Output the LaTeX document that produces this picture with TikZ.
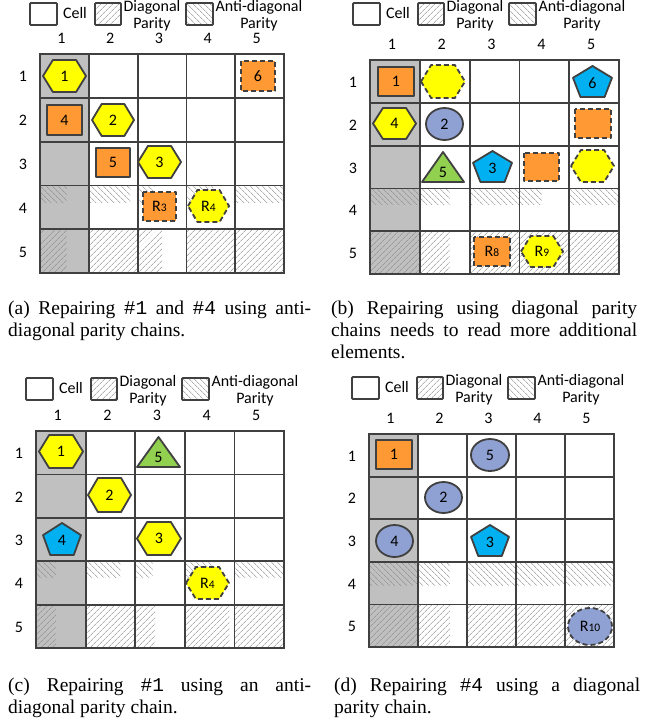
\documentclass[tikz,border=0pt]{standalone}
\usepackage{fontspec}
\setmainfont{Liberation Serif}
\setmonofont{Liberation Mono}
\newfontfamily\calfont{Carlito}
\usetikzlibrary{patterns.meta}
\definecolor{gridc}{RGB}{64,64,64}
\definecolor{colg}{RGB}{192,192,192}
\definecolor{hatchc}{RGB}{135,135,135}
\definecolor{shapec}{RGB}{64,64,64}
\definecolor{yelc}{RGB}{255,255,0}
\definecolor{orgc}{RGB}{255,153,51}
\definecolor{bluc}{RGB}{0,176,240}
\definecolor{ellc}{RGB}{143,160,210}
\definecolor{grnc}{RGB}{146,208,80}
\tikzset{
 gridline/.style={draw=gridc,line width=1.8pt},
 antihatch/.style={pattern={Lines[angle=-45,distance=4pt,line width=0.6pt]},pattern color=hatchc},
 diaghatch/.style={pattern={Lines[angle=45,distance=4pt,line width=0.6pt]},pattern color=hatchc},
 lbl/.style={font=\calfont\fontsize{16}{16}\selectfont,inner sep=0pt,text=black},
 shp/.style={draw=shapec,line width=1.8pt,line join=round},
 dsh/.style={shp,dash pattern=on 5pt off 3pt},
 captxt/.style={font=\fontsize{19.5}{22}\selectfont,inner sep=0pt,anchor=base west},
 legbox/.style={draw=gridc,line width=1.9pt,rounded corners=1pt},
}
\newcommand\panel[8]{%
 \fill[colg] (#1,#2) rectangle ({#1+#3},{#2+5*#4});
 \foreach \f [count=\c from 0] in {#5} {\fill[antihatch] ({#1+\c*#3},{#2+3*#4}) rectangle ({#1+\c*#3+\f*#3},{#2+3*#4+#6*#4});}
 \foreach \f [count=\c from 0] in {#7} {\fill[diaghatch] ({#1+\c*#3},{#2+4*#4}) rectangle ({#1+\c*#3+\f*#3},{#2+5*#4});}
 \foreach \i in {1,...,4} {\draw[gridline] ({#1+\i*#3},#2) -- ({#1+\i*#3},{#2+5*#4});
   \draw[gridline] (#1,{#2+\i*#4}) -- ({#1+5*#3},{#2+\i*#4});}
 \draw[gridline,line width=2.2pt] (#1,#2) rectangle ({#1+5*#3},{#2+5*#4});
 \foreach \i in {1,...,5} {\node[lbl,anchor=base] (#8col\i) at ({#1+(\i-0.5)*#3-3},{#2-10.5}) {\i};
   \node[lbl,anchor=base] (#8row\i) at ({#1-17},{#2+(\i-0.5)*#4+6}) {\i};}
}
\newcommand\mylegend[3]{%
 \begin{scope}[shift={(#1,#2)}]
 \draw[legbox] (30,3) rectangle (57,25);
 \node[lbl,anchor=base] (#3cell) at (75,18.5) {Cell};
 \fill[diaghatch] (95,3) rectangle (121,25);
 \draw[legbox] (95,3) rectangle (121,25);
 \node[lbl,anchor=base] (#3diag) at (152,11) {Diagonal};
 \node[lbl,anchor=base] (#3dpar) at (152,28) {Parity};
 \fill[antihatch] (186,3) rectangle (213,25);
 \draw[legbox] (186,3) rectangle (213,25);
 \node[lbl,anchor=base] (#3anti) at (259,11) {Anti-diagonal};
 \node[lbl,anchor=base] (#3apar) at (259,28) {Parity};
 \end{scope}}
\newcommand\hexs[7]{\draw[#5,shift={(#1,#2)}] ({-#3/2},0) -- ({-#3/2+0.23*#3},{-#4/2}) -- ({#3/2-0.23*#3},{-#4/2}) -- ({#3/2},0) -- ({#3/2-0.23*#3},{#4/2}) -- ({-#3/2+0.23*#3},{#4/2}) -- cycle;
 \node[lbl] (#6) at (#1,#2) {#7};}
\newcommand\pent[7]{\draw[#5,shift={(#1,#2)}] (0,{-#4/2}) -- ({#3/2},{-#4/2+0.38*#4}) -- ({0.31*#3},{#4/2}) -- ({-0.31*#3},{#4/2}) -- ({-#3/2},{-#4/2+0.38*#4}) -- cycle;
 \node[lbl] (#6) at (#1,{#2+1.5}) {#7};}
\newcommand\tri[7]{\draw[#5,shift={(#1,#2)}] (0,{-#4/2}) -- ({#3/2},{#4/2}) -- ({-#3/2},{#4/2}) -- cycle;
 \node[lbl] (#6) at (#1,{#2+5}) {#7};}
\newcommand\ellp[7]{\draw[#5] (#1,#2) ellipse [x radius={#3/2*1pt}, y radius={#4/2*1pt}];
 \node[lbl] (#6) at (#1,#2) {#7};}
\newcommand\sqr[7]{\draw[#5] ({#1-#3/2},{#2-#4/2}) rectangle ({#1+#3/2},{#2+#4/2});
 \node[lbl] (#6) at (#1,#2) {#7};}
\newcommand\Rl[1]{R{\fontsize{11.5}{11.5}\selectfont #1}}
\begin{document}
\begin{tikzpicture}[x=1pt,y=-1pt]
\fill[white] (0,0) rectangle (652,723);
\useasboundingbox (0,0) rectangle (652,723);
% legends
\mylegend{0}{0}{la}
\mylegend{323}{0}{lb}
\mylegend{-4}{375}{lc}
\mylegend{322}{374}{ld}
% grids
\panel{40}{54}{48.8}{43.8}{0.55,0.85,0.35,0.55,1}{0.4}{0.55,1,0.5,1,1}{a}
\panel{370}{60}{49.8}{42.8}{1,0.6,1,0.45,1}{0.38}{1,0.6,1,1,1}{b}
\panel{36}{431}{49.6}{43.4}{0.4,0.7,0.35,0.6,1}{0.38}{0.4,1,0.4,0.9,1}{c}
\panel{369}{434}{49}{42.6}{1,0.65,1,1,1}{0.55}{1,0.65,1,1,1}{d}
% panel (a)
\hexs{64.5}{76}{43}{32}{shp,fill=yelc}{a1}{1}
\sqr{64.5}{120}{35}{30}{shp,fill=orgc}{a4}{4}
\hexs{113}{120}{42}{32}{shp,fill=yelc}{a2}{2}
\sqr{113}{162.5}{34}{29}{shp,fill=orgc}{a5}{5}
\hexs{159.5}{162}{43}{32}{shp,fill=yelc}{a3}{3}
\sqr{258}{76}{34}{30}{dsh,fill=orgc}{a6}{6}
\sqr{159.5}{206.5}{33}{29}{dsh,fill=orgc}{ar3}{\Rl{3}}
\hexs{208.5}{206}{41}{32}{dsh,fill=yelc}{ar4}{\Rl{4}}
% panel (b)
\sqr{396}{81.5}{36}{29}{shp,fill=orgc}{b1}{1}
\hexs{443}{81.5}{44}{33}{dsh,fill=yelc}{bh1}{}
\pent{592.5}{81.5}{39}{31}{shp,fill=bluc}{b6}{6}
\hexs{394.5}{123.5}{43}{31}{shp,fill=yelc}{b4}{4}
\ellp{444.5}{124}{37}{32}{shp,fill=ellc}{b2}{2}
\sqr{593}{123.5}{36}{29}{dsh,fill=orgc}{bs2}{}
\tri{443}{167}{42}{30}{shp,fill=grnc}{b5}{5}
\pent{492.5}{166.5}{39}{31}{shp,fill=bluc}{b3}{3}
\sqr{541.5}{167}{35}{28}{dsh,fill=orgc}{bs3}{}
\hexs{592.5}{166}{43}{32}{dsh,fill=yelc}{bh3}{}
\sqr{492}{251.5}{36}{29}{dsh,fill=orgc}{br8}{\Rl{8}}
\hexs{542}{251.5}{42}{31}{dsh,fill=yelc}{br9}{\Rl{9}}
% panel (c)
\hexs{61}{451.5}{44}{33}{shp,fill=yelc}{c1}{1}
\tri{158.5}{452}{43}{30}{shp,fill=grnc}{c5}{5}
\hexs{109.5}{495}{43}{34}{shp,fill=yelc}{c2}{2}
\pent{62}{539}{38}{32}{shp,fill=bluc}{c4}{4}
\hexs{159}{538.5}{44}{33}{shp,fill=yelc}{c3}{3}
\hexs{207.5}{583}{43}{32}{dsh,fill=yelc}{cr4}{\Rl{4}}
% panel (d)
\sqr{394}{454.5}{36}{29}{shp,fill=orgc}{d1}{1}
\ellp{490}{455}{38}{32}{shp,fill=ellc}{d5}{5}
\ellp{443.5}{497.5}{37}{31}{shp,fill=ellc}{d2}{2}
\ellp{394.5}{541}{37}{32}{shp,fill=ellc}{d4}{4}
\pent{490}{540.5}{38}{31}{shp,fill=bluc}{d3}{3}
\ellp{590}{626.5}{44}{37}{dsh,fill=ellc}{dr10}{\Rl{10}}
% captions
\node[captxt] (capa1) at (8,314) {\makebox[303pt][s]{(a) Repairing \texttt{\#1} and \texttt{\#4} using anti-}};
\node[captxt] (capa2) at (8,336) {diagonal parity chains.};
\node[captxt] (capb1) at (331,314) {\makebox[306pt][s]{(b) Repairing using diagonal parity}};
\node[captxt] (capb2) at (331,336) {\makebox[306pt][s]{chains needs to read more additional}};
\node[captxt] (capb3) at (331,358) {elements.};
\node[captxt] (capc1) at (8,691) {\makebox[303pt][s]{(c) Repairing \texttt{\#1} using an anti-}};
\node[captxt] (capc2) at (8,713) {diagonal parity chain.};
\node[captxt] (capd1) at (334,691) {\makebox[306pt][s]{(d) Repairing \texttt{\#4} using a diagonal}};
\node[captxt] (capd2) at (334,713) {parity chain.};
\end{tikzpicture}
\end{document}
